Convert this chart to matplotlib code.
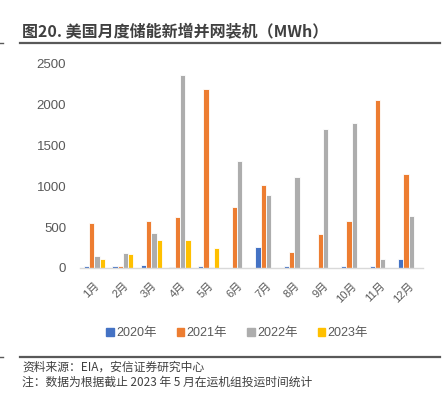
import numpy as np
import matplotlib
matplotlib.use("Agg")
import matplotlib.pyplot as plt
from matplotlib.lines import Line2D

plt.rcParams['font.family'] = ['Liberation Sans', 'Noto Sans CJK SC', 'DejaVu Sans']

months = ['1月', '2月', '3月', '4月', '5月', '6月', '7月', '8月', '9月', '10月', '11月', '12月']
series_names = ['2020年', '2021年', '2022年', '2023年']
v2020 = [25, 25, 40, 15, 25, 0, 262, 25, 0, 28, 28, 110]
v2021 = [553, 20, 573, 626, 2180, 740, 1013, 199, 420, 569, 2053, 1147]
v2022 = [146, 183, 423, 2350, 15, 1309, 894, 1110, 1696, 1769, 113, 636]
v2023 = [112, 171, 340, 340, 248, np.nan, np.nan, np.nan, np.nan, np.nan, np.nan, np.nan]
colors = ['#4472C4', '#ED7D31', '#ADADAD', '#FFC000']
yticks = [0, 500, 1000, 1500, 2000, 2500]

W, H = 445, 396
fig = plt.figure(figsize=(W / 100, H / 100), dpi=100)

ax = fig.add_axes([80 / W, (H - 268) / H, 343 / W, (268 - 63) / H])
x = np.arange(len(months))
bw = 0.185
offsets = [-1.5 * bw, -0.5 * bw, 0.5 * bw, 1.5 * bw]
for vals, off, c, name in zip([v2020, v2021, v2022, v2023], offsets, colors, series_names):
    ax.bar(x + off, vals, width=bw, color=c, edgecolor='white', linewidth=0.6, label=name)

ax.set_xlim(-0.5, len(months) - 0.5)
ax.set_ylim(0, 2500)
ax.set_yticks(yticks)
ax.set_yticklabels([str(t) for t in yticks])
ax.set_xticks(x)
ax.set_xticklabels(months, rotation=45, ha='right', rotation_mode='anchor')
for s in ['top', 'right', 'left']:
    ax.spines[s].set_visible(False)
ax.spines['bottom'].set_color('#D9D9D9')
ax.spines['bottom'].set_linewidth(1.0)
ax.tick_params(axis='y', length=0, pad=10, labelsize=9.5, labelcolor='#595959')
ax.tick_params(axis='x', length=0, pad=9, labelsize=8, labelcolor='#595959')

# legend
handles = [plt.Rectangle((0, 0), 1, 1, color=c) for c in colors]
fig.legend(handles, series_names, loc='center', bbox_to_anchor=(237 / W, 1 - 333 / H),
           ncol=4, frameon=False, fontsize=9, handlelength=0.6, handleheight=0.6,
           handletextpad=0.2, columnspacing=1.6, labelcolor='#595959')

# title
fig.text(22 / W, 1 - 31 / H, '图20. 美国月度储能新增并网装机（MWh）', fontsize=11.5,
         fontweight='bold', color='#404040', va='center', ha='left',
         family=['Noto Sans CJK SC', 'DejaVu Sans'])

# separator lines
for yy in (42.5, 357):
    fig.add_artist(Line2D([20 / W, 440 / W], [1 - yy / H, 1 - yy / H], color='#595959', linewidth=1.6))
    fig.add_artist(Line2D([0, 3 / W], [1 - yy / H, 1 - yy / H], color='#595959', linewidth=1.0))

# footer
fig.text(22 / W, 1 - 367 / H, '资料来源：EIA，安信证券研究中心', fontsize=8.5, color='#404040',
         va='center', ha='left', style='italic', family=['Noto Sans CJK SC', 'DejaVu Sans'])
fig.text(22 / W, 1 - 382 / H, '注：数据为根据截止 2023 年 5 月在运机组投运时间统计', fontsize=8.5,
         color='#404040', va='center', ha='left', style='italic',
         family=['Noto Sans CJK SC', 'DejaVu Sans'])

fig.savefig('out.png', dpi=100)
